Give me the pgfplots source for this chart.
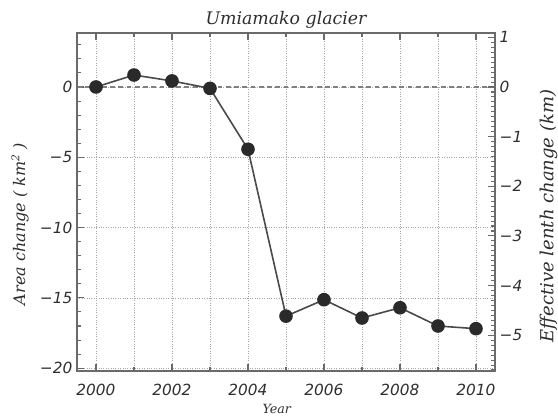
\documentclass[border=0pt]{standalone}
\usepackage{fontspec}
\usepackage{pgfplots}
\pgfplotsset{compat=1.18}
\newfontfamily\tickfont{DejaVu Sans}
\newfontfamily\labfont{DejaVu Serif}
\definecolor{framegray}{HTML}{6A6A6A}
\definecolor{textgray}{HTML}{2E2E2E}
\definecolor{gridgray}{HTML}{A8A8A8}
\definecolor{markgray}{HTML}{2A2A2A}

\pgfplotsset{
  common/.style={
    at={(57.75pt,34.5pt)}, anchor=south west,
    scale only axis, width=313.5pt, height=253.5pt,
    xmin=1999.5, xmax=2010.5,
    axis line style={framegray, line width=1.2pt},
    tick style={framegray, line width=0.8pt},
    major tick length=5.5pt, minor tick length=2.8pt,
    tick label style={textgray, font=\tickfont\itshape\fontsize{11.5}{13}\selectfont},
  },
}

\begin{document}
\begin{tikzpicture}
\useasboundingbox (0,0) rectangle (418.5pt,312.75pt);
% left axis: area change
\begin{axis}[
  common,
  ymin=-20.2, ymax=3.84,
  xtick={2000,2002,2004,2006,2008,2010},
  xticklabels={2000,2002,2004,2006,2008,2010},
  minor xtick={2001,2003,2005,2007,2009},
  ytick={-20,-15,-10,-5,0},
  yticklabels={−20,−15,−10,−5,0},
  minor ytick={-20,-19,...,3},
  xtick pos=both, ytick pos=left,
  xticklabel style={anchor=center, yshift=-14.25pt},
  xmajorgrids, xminorgrids, ymajorgrids,
  major grid style={gridgray, line width=0.5pt, dash pattern=on 0.7pt off 1.1pt},
  minor grid style={gridgray, line width=0.5pt, dash pattern=on 0.7pt off 1.1pt},
  every axis title shift=0pt,
  title={Umiamako glacier},
  title style={at={(axis description cs:0.5,1.0385)}, anchor=center,
    textgray, font=\labfont\itshape\fontsize{13}{15}\selectfont},
  xlabel={Year},
  xlabel style={at={(axis description cs:0.478,-0.127)}, anchor=base,
    textgray, font=\labfont\itshape\fontsize{9.5}{11}\selectfont},
  ylabel={Area change ( km\textsuperscript{2} )},
  ylabel style={at={(axis description cs:-0.136,0.435)}, anchor=center,
    textgray, font=\labfont\itshape\fontsize{12}{14}\selectfont},
]
\addplot[color=framegray!85, line width=1.3pt, dash pattern=on 3.6pt off 2.6pt]
  coordinates {(1999.5,0) (2010.5,0)};
\addplot[color=markgray!85, line width=1.2pt, mark=*, mark size=4.5pt,
  mark options={fill=markgray, draw=markgray}]
  coordinates {
  (2000,0.00) (2001,0.85) (2002,0.43) (2003,-0.10) (2004,-4.43)
  (2005,-16.30) (2006,-15.13) (2007,-16.43) (2008,-15.70)
  (2009,-17.00) (2010,-17.19)
  };
\end{axis}
% right axis: effective length change
\begin{axis}[
  common,
  ymin=-5.72, ymax=1.088,
  hide x axis,
  ytick={-5,-4,-3,-2,-1,0,1},
  yticklabels={−5,−4,−3,−2,−1,0,1},
  minor ytick={-5.7,-5.6,...,1.05},
  ytick pos=right, yticklabel pos=right,
  ylabel={Effective lenth change (km)},
  ylabel style={at={(axis description cs:1.128,0.4586)}, anchor=center, rotate=0,
    textgray, font=\labfont\itshape\fontsize{13.5}{15}\selectfont},
]
\end{axis}
\end{tikzpicture}
\end{document}
